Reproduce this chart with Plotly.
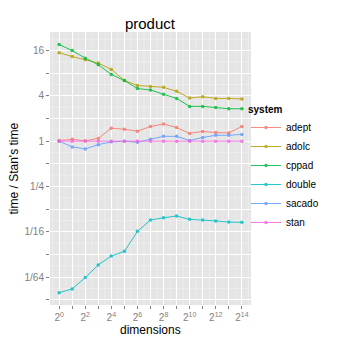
import numpy as np
import plotly.graph_objects as go

# data (time relative to Stan, per dimension 2^k)
dimensions = [2 ** k for k in range(15)]
systems = ["adept", "adolc", "cppad", "double", "sacado", "stan"]
adept = [1.02, 1.06, 1.01, 1.09, 1.49, 1.44, 1.36, 1.57, 1.69, 1.52, 1.27, 1.35, 1.30, 1.29, 1.57]
adolc = [15.0, 13.3, 12.1, 10.9, 9.0, 6.4, 5.5, 5.35, 5.2, 4.6, 3.75, 3.9, 3.7, 3.7, 3.64]
cppad = [19.3, 16.0, 12.7, 10.4, 7.7, 6.4, 5.0, 4.8, 4.2, 3.7, 2.9, 2.9, 2.8, 2.7, 2.7]
double = [0.0097, 0.0109, 0.0154, 0.0227, 0.0298, 0.0344, 0.0634, 0.0897, 0.096, 0.1015,
          0.0915, 0.0897, 0.0872, 0.0842, 0.0836]
sacado = [1.0, 0.84, 0.79, 0.90, 0.98, 1.0, 0.97, 1.06, 1.16, 1.16, 1.02, 1.12, 1.2, 1.2, 1.23]
stan = [1.0] * 15
series = dict(adept=adept, adolc=adolc, cppad=cppad, double=double, sacado=sacado, stan=stan)
colors = ["#F8766D", "#B79F00", "#00BA38", "#00BFC4", "#619CFF", "#F564E3"]

# tick labels: labelled at even powers of two, unlabelled ticks at odd powers
x_label_exp = [0, 2, 4, 6, 8, 10, 12, 14]
x_ticktext = ["2<sup>%d</sup>" % k for k in x_label_exp]
x_odd_exp = [1, 3, 5, 7, 9, 11, 13]
y_label_exp = [-6, -4, -2, 0, 2, 4]
y_ticktext = ["1/64", "1/16", "1/4", "1", "4", "16"]
y_odd_exp = [-7, -5, -3, -1, 1, 3]

fig = go.Figure()
for name, col in zip(systems, colors):
    fig.add_trace(
        go.Scatter(
            x=dimensions,
            y=series[name],
            mode="lines+markers",
            name=name,
            line=dict(color=col, width=1),
            marker=dict(color=col, size=3.5),
            opacity=0.85,
        )
    )

# thin minor grid lines halfway between powers of two (ggplot style)
for k in range(-1, 15):
    fig.add_shape(type="line", xref="x", yref="paper", x0=2 ** (k + 0.5), x1=2 ** (k + 0.5),
                  y0=0, y1=1, line=dict(color="#F2F2F2", width=0.6), layer="below")
for k in range(-8, 5):
    fig.add_shape(type="line", xref="paper", yref="y", x0=0, x1=1, y0=2 ** (k + 0.5),
                  y1=2 ** (k + 0.5), line=dict(color="#F2F2F2", width=0.6), layer="below")

lg2 = np.log10(2)
tickstyle = dict(ticks="outside", ticklen=3, tickwidth=1, tickcolor="#7f7f7f")
axis_common = dict(
    type="log",
    showgrid=True,
    gridcolor="white",
    gridwidth=1,
    zeroline=False,
    showline=False,
    automargin=False,
    tickfont=dict(size=10, color="#7f7f7f", family="Liberation Sans, Arial"),
    tickmode="array",
    **tickstyle,
)

fig.update_xaxes(
    **axis_common,
    range=[-0.7 * lg2, 14.7 * lg2],
    tickvals=[2 ** k for k in x_label_exp],
    ticktext=x_ticktext,
    minor=dict(tickvals=[2 ** k for k in x_odd_exp], showgrid=True,
               gridcolor="white", gridwidth=1, **tickstyle),
)
fig.update_yaxes(
    **axis_common,
    range=[-7.23 * lg2, 4.82 * lg2],
    tickvals=[2 ** k for k in y_label_exp],
    ticktext=y_ticktext,
    minor=dict(tickvals=[2 ** k for k in y_odd_exp], showgrid=True,
               gridcolor="white", gridwidth=1, **tickstyle),
)

# axis titles as annotations so they sit where ggplot puts them
fig.add_annotation(text="dimensions", xref="paper", yref="paper", x=0.5, y=-0.092,
                   xanchor="center", yanchor="middle", showarrow=False,
                   font=dict(size=12, color="black"))
fig.add_annotation(text="time / Stan's time", xref="paper", yref="paper", x=-0.184, y=0.5,
                   xanchor="center", yanchor="middle", textangle=-90, showarrow=False,
                   font=dict(size=12, color="black"))

# the page body adds 8px, so the figure is 338 wide and tall
fig.update_layout(
    width=338,
    height=338,
    margin=dict(l=42, r=95, t=24, b=41),
    paper_bgcolor="white",
    plot_bgcolor="#E5E5E5",
    font=dict(family="Liberation Sans, Arial", color="black"),
    title=dict(text="product", xref="container", x=0.42, xanchor="center",
               yref="container", y=0.953, yanchor="middle",
               font=dict(size=15, color="black")),
    legend=dict(
        title=dict(text="<b>system</b>", font=dict(size=10)),
        font=dict(size=10),
        x=0.975,
        xanchor="left",
        y=0.5,
        yanchor="middle",
        bgcolor="rgba(0,0,0,0)",
        tracegroupgap=0,
        itemwidth=30,
    ),
    showlegend=True,
)

fig.write_html("out.html")
